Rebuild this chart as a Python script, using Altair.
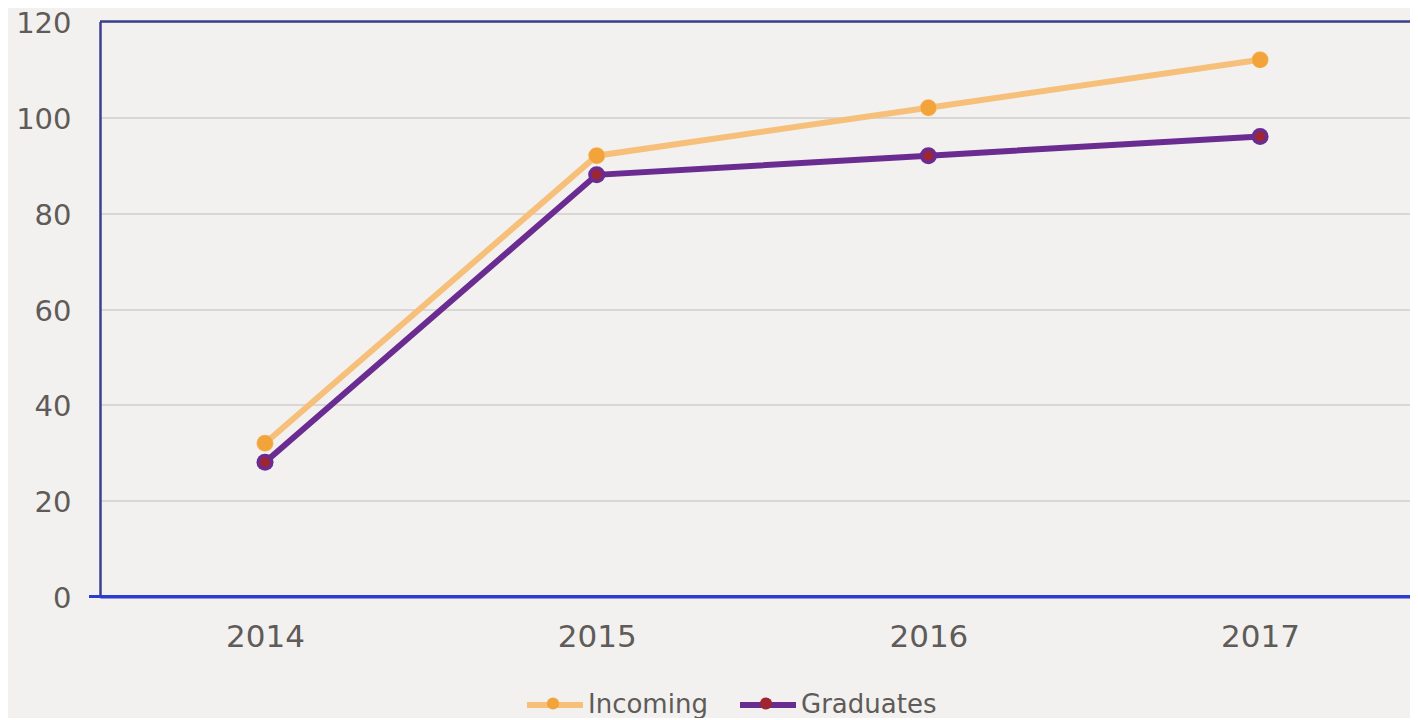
import altair as alt
import pandas as pd

years = [2014, 2015, 2016, 2017]
incoming = [32, 92, 102, 112]
graduates = [28, 88, 92, 96]
series = ["Incoming", "Graduates"]
dot_keys = ["Incoming point", "Graduates point"]
line_colors = ["#f6c07b", "#6a2c91"]
point_colors = ["#f2a43a", "#9e2633"]
inner_sizes = [250, 100]
y_ticks = [0, 20, 40, 60, 80, 100, 120]
x_domain = [2013.5025, 2017.452]

rows = []
for yr, a, b in zip(years, incoming, graduates):
    rows.append({"Year": yr, "Series": series[0], "Dot": dot_keys[0], "Value": a})
    rows.append({"Year": yr, "Series": series[1], "Dot": dot_keys[1], "Value": b})
df = pd.DataFrame(rows)

W, H = 1310, 575
FONT = "DejaVu Sans"
TXT = "#5f5b58"

x_enc = alt.X(
    "Year:Q",
    scale=alt.Scale(domain=x_domain, nice=False, zero=False),
    axis=alt.Axis(
        title=None, values=years, format="d", labelAngle=0, ticks=False,
        grid=False, labelPadding=26, labelFontSize=31, labelColor=TXT,
        labelFont=FONT, domainColor="#2b3dd0", domainWidth=3,
    ),
)
y_enc = alt.Y(
    "Value:Q",
    scale=alt.Scale(domain=[0, 120], nice=False),
    axis=alt.Axis(
        title=None, values=y_ticks, ticks=False, grid=True,
        gridColor="#d9d7d5", gridWidth=2,
        labelPadding=29, labelFontSize=29, labelColor=TXT, labelFont=FONT,
        labelOffset=2,
        domainColor="#3c3f8c", domainWidth=2.5,
    ),
)

line_legend = alt.Legend(
    title=None, orient="none", direction="horizontal",
    legendX=424, legendY=652.5, padding=0,
    symbolType="stroke", symbolSize=3136, symbolStrokeWidth=6,
    labelFontSize=26, labelFont=FONT, labelColor=TXT, labelOffset=2,
    columnPadding=20,
)
point_legend = alt.Legend(
    title=None, orient="none", direction="horizontal",
    legendX=440, legendY=669, padding=0,
    symbolType="circle", symbolSize=150, symbolStrokeWidth=0,
    labelFontSize=26, labelFont=FONT, labelOffset=0,
    labelExpr="''", columnPadding=187,
)

color_enc = alt.Color(
    "Series:N", sort=series,
    scale=alt.Scale(domain=series, range=line_colors),
    legend=line_legend,
)

base = alt.Chart(df)

top_rule = alt.Chart(pd.DataFrame({"v": [120]})).mark_rule(
    color="#3c3f8c", strokeWidth=2.5
).encode(y=alt.Y("v:Q"))

bottom_rule = alt.Chart(pd.DataFrame({"v": [0]})).mark_rule(
    color="#2b3dd0", strokeWidth=3
).encode(y=alt.Y("v:Q"), x=alt.value(-11), x2=alt.value(W))

lines = base.mark_line(strokeWidth=6).encode(
    x=x_enc, y=y_enc, color=color_enc, order="Year:Q"
)
rings = base.mark_circle(size=290, opacity=1).encode(
    x=x_enc, y=y_enc, color=color_enc
)
inner = base.mark_circle(opacity=1).encode(
    x=x_enc, y=y_enc,
    fill=alt.Fill("Dot:N", sort=dot_keys,
                  scale=alt.Scale(domain=dot_keys, range=point_colors),
                  legend=point_legend),
    size=alt.condition(alt.datum.Dot == dot_keys[0],
                       alt.value(inner_sizes[0]), alt.value(inner_sizes[1])),
)

chart = alt.layer(top_rule, bottom_rule, lines, rings, inner).properties(
    width=W, height=H,
    autosize=alt.AutoSizeParams(type="none"),
    padding={"left": 92, "top": 13.5, "right": 0, "bottom": 121},
    background="#f2f1ef",
).configure_view(stroke=None)

chart.save("out.html", embed_options={"renderer": "svg", "actions": False})
